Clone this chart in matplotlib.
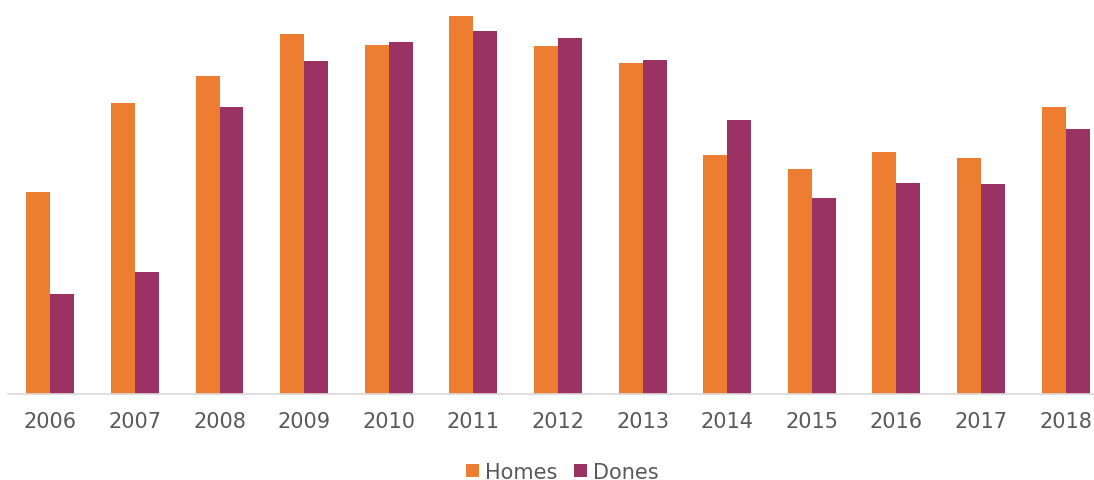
import matplotlib.pyplot as plt
import numpy as np

years = ["2006", "2007", "2008", "2009", "2010", "2011", "2012",
         "2013", "2014", "2015", "2016", "2017", "2018"]
homes = [202, 291, 318, 360, 349, 378, 348, 331, 239, 225, 242, 236, 287]
dones = [100, 122, 287, 333, 352, 363, 356, 334, 274, 196, 211, 210, 265]

fig = plt.figure(figsize=(10.94, 4.81), dpi=100)
ax = fig.add_axes([8 / 1094, 86 / 481, 1086 / 1094, 394 / 481])

x = np.arange(len(years))
w = 0.283
ax.bar(x - w / 2, homes, w, color="#ED7D31", label="Homes")
ax.bar(x + w / 2, dones, w, color="#9B3264", label="Dones")

ax.set_xlim(-0.5, 12.335)
ax.set_ylim(0, 394)
ax.set_xticks(x)
ax.set_xticklabels(years, fontsize=15, color="#595959")
ax.tick_params(axis="x", length=0, pad=12)
ax.set_yticks([])
for s in ["top", "right", "left"]:
    ax.spines[s].set_visible(False)
ax.spines["bottom"].set_color("#d9d9d9")
ax.spines["bottom"].set_linewidth(1.2)

fig.legend(loc="lower center", bbox_to_anchor=(0.514, -0.043), ncol=2, frameon=False,
           fontsize=15, labelcolor="#595959", handlelength=0.6, handleheight=0.6,
           handletextpad=0.3, columnspacing=0.8)

fig.savefig("out.png", dpi=100)
